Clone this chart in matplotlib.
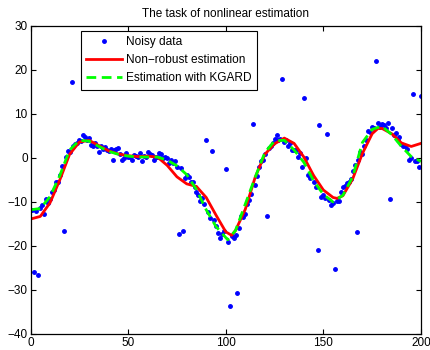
import numpy as np
import matplotlib
matplotlib.use("Agg")
import matplotlib.pyplot as plt

plt.rcParams['font.family'] = ['Liberation Sans', 'DejaVu Sans']

# Noisy data, x = 1..200
noisy_x = list(range(1, 201))
noisy_y = [
    -11.9, -26.0, -12.0, -26.6, -11.4, -10.7, -12.7, -9.4, -10.2, -9.3,
    -7.7, -7.2, -5.5, -5.4, -3.8, -1.8, -16.6, 0.2, 1.6, 1.4,
    17.3, 2.6, 3.2, 3.5, 4.1, 3.9, 5.1, 4.7, 4.1, 4.5,
    3.0, 2.8, 3.5, 2.6, 1.4, 2.8, 2.0, 2.4, 1.8, 1.5,
    2.0, -0.5, 1.8, 2.0, 2.2, 1.0, -0.5, -0.1, 1.2, 0.3,
    0.2, -0.5, 0.7, 0.4, 0.2, 1.1, -0.8, 0.5, 0.2, 1.4,
    0.9, 0.6, -0.5, 0.2, 0.2, 1.1, 0.8, 0.0, 0.3, -0.1,
    -1.2, -0.5, -1.2, -0.8, -2.0, -17.3, -2.3, -16.7, -4.5, -3.9,
    -4.4, -5.4, -5.4, -6.5, -7.8, -8.4, -9.9, -9.2, -10.5, 4.1,
    -12.2, -13.7, 1.6, -14.1, -15.5, -17.1, -18.3, -17.3, -16.7, -2.6,
    -19.0, -33.6, -17.7, -18.3, -17.5, -30.8, -16.0, -13.2, -13.5, -12.8,
    -10.5, -9.5, -8.3, 7.8, -6.1, -4.2, -2.0, -0.8, -0.5, 0.8,
    -13.3, 2.2, 2.6, 3.5, 4.2, 5.2, 4.1, 4.2, 18.0, 3.7,
    4.1, 2.6, 3.3, 1.8, 1.7, 1.8, 0.3, 1.1, -2.0, 13.7,
    -0.1, -3.9, -4.6, -4.2, -5.4, -6.5, -20.9, 7.5, -8.8, -8.4,
    -9.2, 5.5, -9.5, -10.7, -10.3, -25.2, -9.8, -9.8, -7.7, -6.5,
    -6.3, -5.8, -5.4, -4.7, -3.0, -1.6, -16.9, -0.5, 1.4, 0.9,
    2.6, 4.1, 6.1, 6.0, 7.1, 6.7, 22.1, 8.0, 7.1, 7.7,
    7.5, 6.9, 7.9, -9.3, 6.7, 5.2, 5.6, 4.1, 4.8, 3.2,
    2.6, 2.6, 2.0, -0.5, -0.1, 14.6, -0.7, -0.8, -2.0, 14.0,
]

# Non-robust estimation (red)
red_x = [0, 5, 10, 15, 20, 25, 30, 35, 40, 45, 50, 55, 60, 65, 70, 75, 80, 85,
         90, 95, 100, 103, 105, 110, 115, 120, 125, 130, 135, 140, 145, 150,
         155, 157, 160, 165, 170, 175, 178, 180, 185, 190, 195, 200]
red_y = [-13.9, -13.3, -10.2, -5.0, 0.8, 3.6, 4.0, 2.8, 1.6, 0.9, 0.5, 0.3,
         0.4, 0.2, -1.7, -4.3, -5.9, -6.5, -9.0, -13.0, -16.8, -17.6, -16.5,
         -11.7, -4.5, 0.8, 3.2, 4.5, 3.3, 0.2, -4.0, -7.3, -9.0, -9.2, -8.6,
         -4.8, 1.0, 5.5, 6.7, 6.7, 5.5, 3.4, 2.6, 3.3]

# Estimation with KGARD (green)
green_x = [0, 5, 10, 15, 20, 25, 30, 35, 40, 45, 50, 55, 60, 65, 70, 75, 80,
           85, 90, 95, 101, 105, 110, 115, 120, 125, 130, 135, 140, 145, 150,
           155, 160, 165, 170, 175, 180, 185, 190, 195, 200]
green_y = [-11.8, -11.5, -8.8, -4.0, 1.8, 4.0, 3.8, 2.6, 1.5, 0.8, 0.4, 0.2,
           0.2, 0.2, -0.5, -1.8, -3.8, -7.2, -11.8, -15.6, -18.6, -16.5,
           -10.5, -4.5, 1.2, 3.9, 4.0, 1.8, -1.0, -5.2, -8.3, -10.0, -8.5,
           -4.3, 3.5, 6.5, 7.2, 5.3, 2.6, 0.3, -0.8]

x_ticks = [0, 50, 100, 150, 200]
y_ticks = [-40, -30, -20, -10, 0, 10, 20, 30]

fig = plt.figure(figsize=(4.3, 3.5), dpi=100)
ax = fig.add_axes([0.071, 0.046, 0.908, 0.88])

ax.plot(noisy_x, noisy_y, '.', color='#0000ff', markersize=5, label='Noisy data')
ax.plot(red_x, red_y, '-', color='#ff0000', lw=2.0, label='Non\u2212robust estimation')
ax.plot(green_x, green_y, '--', color='#00ff00', lw=2.0, dashes=(3.5, 2),
        label='Estimation with KGARD')

ax.set_xlim(0, 200)
ax.set_ylim(-40, 30)
ax.set_xticks(x_ticks)
ax.set_yticks(y_ticks)
ax.set_yticklabels([str(v).replace('-', '\u2212') for v in y_ticks])
ax.tick_params(direction='in', length=3.5, width=0.8, labelsize=8.5,
               top=True, right=True, colors='black', pad=2)
for s in ax.spines.values():
    s.set_linewidth(0.9)

ax.set_title('The task of nonlinear estimation', fontsize=8.5, pad=6.5)

leg = ax.legend(loc='upper left', bbox_to_anchor=(0.129, 0.984),
                borderaxespad=0, fontsize=8.6, fancybox=False, framealpha=1,
                edgecolor='black', handlelength=3.0, labelspacing=0.5,
                borderpad=0.45, handletextpad=0.3)
leg.get_frame().set_linewidth(0.8)

fig.savefig('out.png', dpi=100)
